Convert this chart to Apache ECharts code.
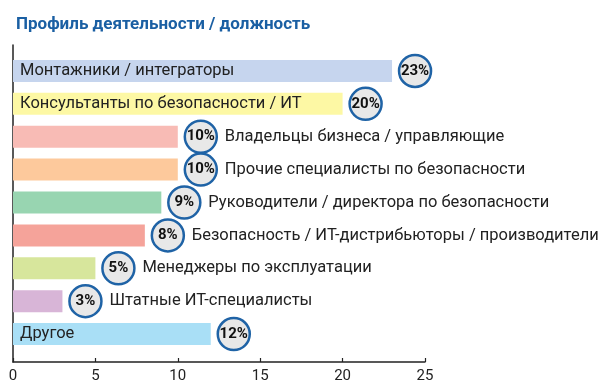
<!DOCTYPE html>
<html><head><meta charset="utf-8">
<script src="https://cdn.jsdelivr.net/npm/echarts@6/dist/echarts.min.js"></script>
<style>html,body{margin:0;padding:0;background:#fff}#c{width:600px;height:389px}</style>
</head><body><div id="c"></div>
<script>
var titleText = 'Профиль деятельности / должность';
var categories = [
  'Монтажники / интеграторы',
  'Консультанты по безопасности / ИТ',
  'Владельцы бизнеса / управляющие',
  'Прочие специалисты по безопасности',
  'Руководители / директора по безопасности',
  'Безопасность / ИТ-дистрибьюторы / производители',
  'Менеджеры по эксплуатации',
  'Штатные ИТ-специалисты',
  'Другое'
];
var values = [23, 20, 10, 10, 9, 8, 5, 3, 12];
var nameInside = [true, true, false, false, false, false, false, false, true];
var colors = ['#c6d5ee', '#fdf8a4', '#f8bbb5', '#fdc99c', '#98d5b1', '#f5a39a', '#d7e69c', '#d8b5d7', '#a9dff6'];
var xTicks = [0, 5, 10, 15, 20, 25];

var FONT = "Roboto, 'Liberation Sans', sans-serif";
var chart = echarts.init(document.getElementById('c'), null, {renderer: 'canvas'});

var barData = values.map(function (v, i) {
  var inside = nameInside[i];
  return {
    value: v,
    itemStyle: {color: colors[i]},
    label: inside ? {position: 'insideLeft', distance: 7} : {position: 'right', distance: 47}
  };
});
var circleData = values.map(function (v, i) { return [v, categories[i]]; });

chart.setOption({
  animation: false,
  title: {
    text: titleText, left: 11, top: 11,
    textStyle: {color: '#1a5fa3', fontWeight: 'bold', fontSize: 17, fontFamily: FONT}
  },
  grid: [
    {left: 13, width: 412, top: 54.5, bottom: 38.5},
    {left: 13, width: 412, top: 45, bottom: 27}
  ],
  xAxis: [{
    gridIndex: 0, type: 'value', min: xTicks[0], max: xTicks[xTicks.length - 1], interval: 5,
    offset: 11.5,
    axisLine: {show: true, lineStyle: {color: '#222', width: 1.5}},
    axisTick: {show: true, inside: true, length: 4, lineStyle: {color: '#222', width: 1.2}},
    axisLabel: {color: '#222', fontSize: 15, fontFamily: FONT, margin: 7},
    splitLine: {show: false}
  }, {
    gridIndex: 1, type: 'value', min: 0, max: 1, show: false
  }],
  yAxis: [{
    gridIndex: 0, type: 'category', data: categories, inverse: true,
    axisLine: {show: false}, axisTick: {show: false}, axisLabel: {show: false}
  }, {
    gridIndex: 1, type: 'value', min: 0, max: 1,
    axisLine: {show: true, lineStyle: {color: '#222', width: 1.5}},
    axisTick: {show: false}, axisLabel: {show: false}, splitLine: {show: false}
  }],
  series: [{
    type: 'bar', xAxisIndex: 0, yAxisIndex: 0, barWidth: 22, data: barData,
    z: 2,
    label: {
      show: true, fontFamily: FONT, fontSize: 16.5, color: '#222',
      formatter: '{b}'
    }
  }, {
    type: 'scatter', xAxisIndex: 0, yAxisIndex: 0, data: circleData,
    symbol: 'circle', symbolSize: 32, symbolOffset: [23, 0], z: 4,
    itemStyle: {color: '#e8e8e8', borderColor: '#1f63a6', borderWidth: 2.5, opacity: 1},
    label: {
      show: true, position: 'inside',
      fontFamily: FONT, fontWeight: 'bold', fontSize: 15, color: '#111',
      formatter: function (p) { return p.value[0] + '%'; }
    }
  }]
});
</script></body></html>
